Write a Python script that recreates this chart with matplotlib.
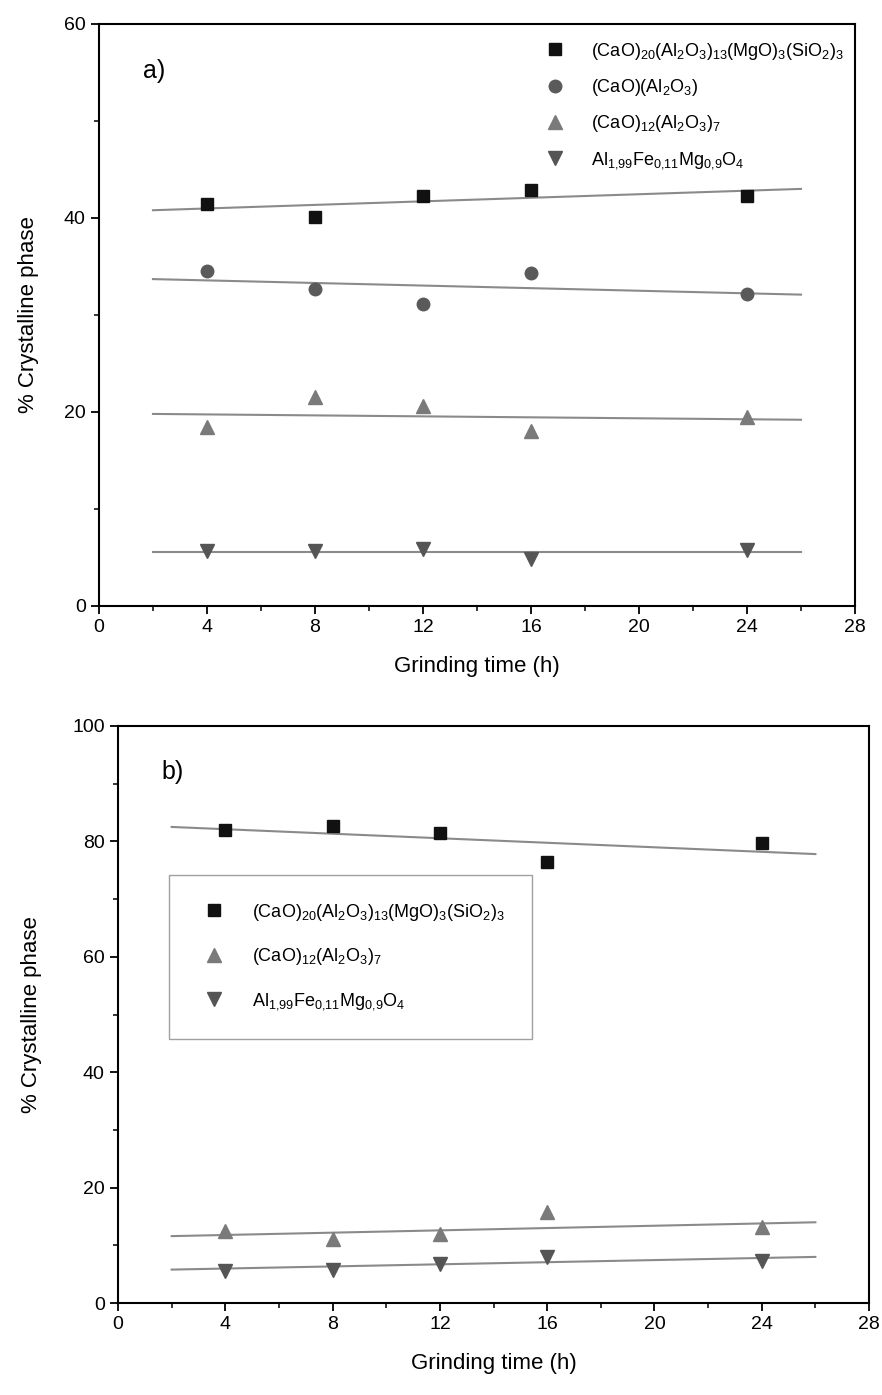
import numpy as np
import matplotlib.pyplot as plt

plt.rcParams['font.family'] = ['Liberation Sans', 'DejaVu Sans']
plt.rcParams['mathtext.default'] = 'regular'

# grinding time (h)
hours = [4, 8, 12, 16, 24]
fit_x = [2, 26]

# labels
lab_c20 = r'(CaO)$_{20}$(Al$_2$O$_3$)$_{13}$(MgO)$_3$(SiO$_2$)$_3$'
lab_ca = r'(CaO)(Al$_2$O$_3$)'
lab_c12 = r'(CaO)$_{12}$(Al$_2$O$_3$)$_7$'
lab_sp = r'Al$_{1{,}99}$Fe$_{0{,}11}$Mg$_{0{,}9}$O$_4$'

# panel a) values
a_c20 = [41.4, 40.1, 42.3, 42.9, 42.3]
a_ca = [34.5, 32.7, 31.1, 34.3, 32.2]
a_c12 = [18.5, 21.5, 20.6, 18.0, 19.5]
a_sp = [5.7, 5.7, 5.9, 4.8, 5.8]
a_fit_c20 = [40.8, 43.0]
a_fit_ca = [33.7, 32.1]
a_fit_c12 = [19.8, 19.2]
a_fit_sp = [5.6, 5.6]

# panel b) values
b_c20 = [81.9, 82.7, 81.5, 76.4, 79.7]
b_c12 = [12.5, 11.1, 11.9, 15.8, 13.1]
b_sp = [5.6, 5.8, 6.7, 7.9, 7.3]
b_fit_c20 = [82.5, 77.8]
b_fit_c12 = [11.6, 14.0]
b_fit_sp = [5.8, 8.0]

fig = plt.figure(figsize=(8.82, 13.95), dpi=100)
ax1 = fig.add_axes([0.1122, 0.5656, 0.8572, 0.4172])
ax2 = fig.add_axes([0.1338, 0.0659, 0.8515, 0.4137])

line_col = '#8a8a8a'
ms = 9


def style_axis(ax, ymax, ystep, panel, ypad):
    ax.set_xlim(0, 28)
    ax.set_ylim(0, ymax)
    ax.set_xticks(np.arange(0, 29, 4))
    ax.set_xticks(np.arange(2, 28, 4), minor=True)
    ax.set_yticks(np.arange(0, ymax + 1, ystep))
    ax.set_yticks(np.arange(ystep / 2, ymax, ystep), minor=True)
    ax.tick_params(which='major', direction='out', length=6, width=1.3, labelsize=14)
    ax.tick_params(which='minor', direction='out', length=3.5, width=1.1)
    for s in ax.spines.values():
        s.set_linewidth(1.5)
    ax.set_xlabel('Grinding time (h)', fontsize=16, labelpad=14)
    ax.set_ylabel('% Crystalline phase', fontsize=16, labelpad=ypad)
    ax.text(0.058, 0.92, panel, transform=ax.transAxes, fontsize=18, va='center')


# ---- panel a
ax1.plot(fit_x, a_fit_c20, color=line_col, lw=1.5)
ax1.plot(fit_x, a_fit_ca, color=line_col, lw=1.5)
ax1.plot(fit_x, a_fit_c12, color=line_col, lw=1.5)
ax1.plot(fit_x, a_fit_sp, color=line_col, lw=1.5)
ax1.plot(hours, a_c20, 's', color='#111111', ms=ms - 1, label=lab_c20)
ax1.plot(hours, a_ca, 'o', color='#5a5a5a', ms=ms, label=lab_ca)
ax1.plot(hours, a_c12, '^', color='#7a7a7a', ms=ms + 1, label=lab_c12)
ax1.plot(hours, a_sp, 'v', color='#555555', ms=ms + 1, label=lab_sp)
style_axis(ax1, 60, 20, 'a)', 18)
ax1.legend(loc='upper right', bbox_to_anchor=(1.0, 0.99), frameon=False,
           fontsize=13, labelspacing=0.85, handletextpad=1.0, borderaxespad=0.2)

# ---- panel b
ax2.plot(fit_x, b_fit_c20, color=line_col, lw=1.5)
ax2.plot(fit_x, b_fit_c12, color=line_col, lw=1.5)
ax2.plot(fit_x, b_fit_sp, color=line_col, lw=1.5)
ax2.plot(hours, b_c20, 's', color='#111111', ms=ms - 1, label=lab_c20)
ax2.plot(hours, b_c12, '^', color='#7a7a7a', ms=ms + 1, label=lab_c12)
ax2.plot(hours, b_sp, 'v', color='#555555', ms=ms + 1, label=lab_sp)
style_axis(ax2, 100, 20, 'b)', 22)
leg = ax2.legend(loc='upper left', bbox_to_anchor=(0.056, 0.758), frameon=True,
                 fontsize=13, labelspacing=1.3, handletextpad=1.1, borderpad=1.5,
                 fancybox=False)
leg.get_frame().set_edgecolor('#888888')
leg.get_frame().set_linewidth(1.0)

fig.savefig('out.png', dpi=100)
